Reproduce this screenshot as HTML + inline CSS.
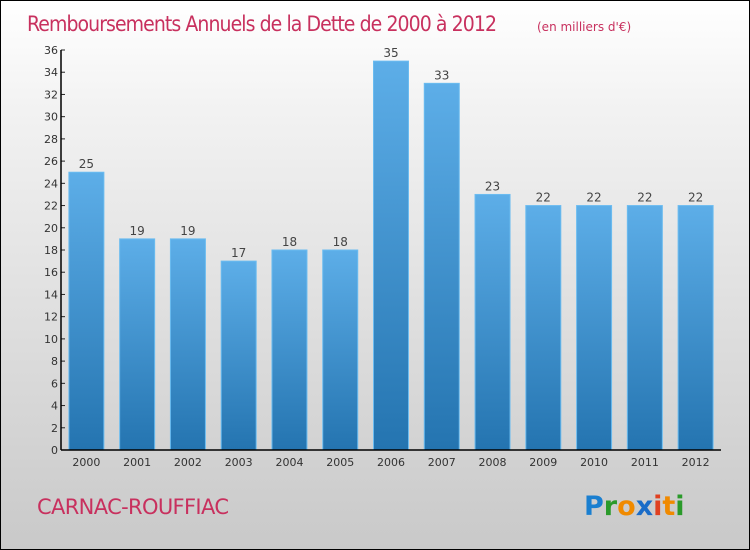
<!DOCTYPE html>
<html><head><meta charset="utf-8"><style>
body{margin:0}
#c{position:relative;width:748px;height:548px;border:1px solid #000;background:linear-gradient(#fff,#f2f2f2 20%,#c9c9c9);overflow:hidden;font-family:"DejaVu Sans","Liberation Sans",sans-serif}
</style></head><body>
<div id="c">
<svg width="748" height="548">
<defs><linearGradient id="bg" x1="0" y1="0" x2="0" y2="1"><stop offset="0" stop-color="#5daee8"/><stop offset="1" stop-color="#2474b0"/></linearGradient></defs>
<text x="26" y="30" font-size="21" fill="#c8305e" style="font-family:'DejaVu Sans Condensed','DejaVu Sans',sans-serif;font-weight:200" textLength="470">Remboursements Annuels de la Dette de 2000 à 2012</text>
<text x="536" y="30" font-size="12" fill="#c8305e">(en milliers d'€)</text>
<g id="plot"></g>
<text x="36" y="513" font-size="21" fill="#c8305e" textLength="192">CARNAC-ROUFFIAC</text>
<text x="583" y="514" font-size="27" font-weight="bold" font-family="'DejaVu Sans',sans-serif"><tspan fill="#1a7fd0">P</tspan><tspan fill="#2a9a2a">r</tspan><tspan fill="#f08a00">o</tspan><tspan fill="#1a6cc8">x</tspan><tspan fill="#e04020">i</tspan><tspan fill="#f08a00">t</tspan><tspan fill="#2a9a2a">i</tspan></text>
</svg>
</div>
<script>
const categories=["2000","2001","2002","2003","2004","2005","2006","2007","2008","2009","2010","2011","2012"];
const values=[25,19,19,17,18,18,35,33,23,22,22,22,22];
const yTicks=[0,2,4,6,8,10,12,14,16,18,20,22,24,26,28,30,32,34,36];
const NS="http://www.w3.org/2000/svg";
const g=document.getElementById('plot');
const x0=60,x1=720,y0=449,yTop=49,yMax=36;
const band=(x1-x0)/categories.length;
function y(v){return y0-(v/yMax)*(y0-yTop);}
function xc(i){return x0+band*(i+0.5);}
function mk(t,a){const e=document.createElementNS(NS,t);for(const k in a)e.setAttribute(k,a[k]);g.appendChild(e);return e;}
values.forEach((v,i)=>{
 const r=mk('rect',{x:xc(i)-17.5,y:y(v),width:35,height:y0-y(v),fill:'url(#bg)',stroke:'#6bbcf0','stroke-width':1});
 
 
 const t=mk('text',{x:xc(i),y:y(v)-4,'font-size':12,'text-anchor':'middle',fill:'#444'});
 t.textContent=v;
 
 
 const c=mk('text',{x:xc(i),y:y0+16,'font-size':11,'text-anchor':'middle',fill:'#333'});
 c.textContent=categories[i];
 
 
});
yTicks.forEach(v=>{
 mk('line',{x1:x0,x2:x0+4,y1:y(v),y2:y(v),stroke:'#222'});
 const t=mk('text',{x:x0-3,y:y(v)+4,'font-size':11,'text-anchor':'end',fill:'#333'});
 t.textContent=v;
 
 
});
const ya=mk('line',{x1:x0,x2:x0,y1:yTop,y2:y0,stroke:'#000','stroke-width':1.5});


const xa=mk('line',{x1:x0,x2:x1,y1:y0,y2:y0,stroke:'#000','stroke-width':1.5});


</script>
</body></html>
